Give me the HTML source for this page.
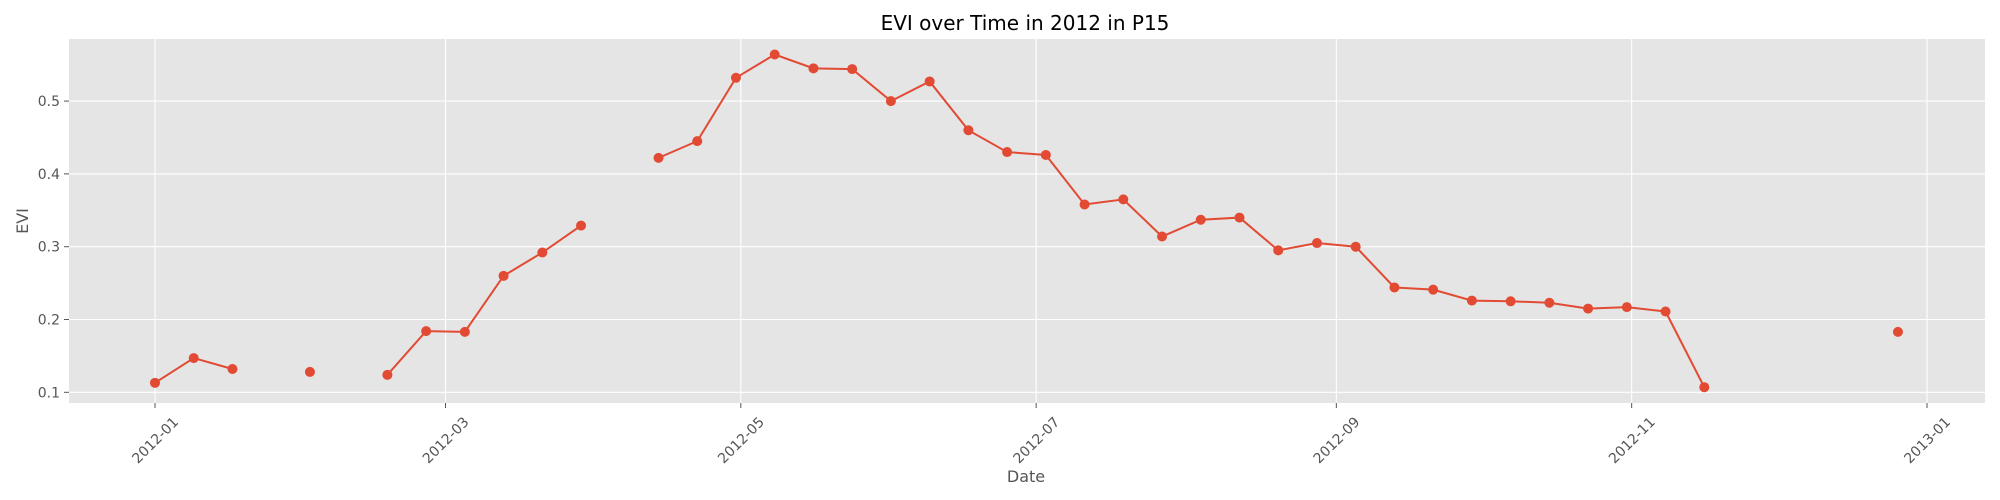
<!DOCTYPE html>
<html><head><meta charset="utf-8"><style>
html,body{margin:0;padding:0;background:#fff;}
svg{display:block;font-family:"DejaVu Sans","Liberation Sans",sans-serif;}
</style></head><body>
<svg id="chart" width="2000" height="500" viewBox="0 0 2000 500" xmlns="http://www.w3.org/2000/svg">
<rect x="0" y="0" width="2000" height="500" fill="#fff"/>
<rect x="69" y="39" width="1916" height="364" fill="#e5e5e5"/>
<g id="grid"></g><g id="ticks"></g><g id="series"></g>
<text x="1025" y="30" font-size="20" text-anchor="middle" fill="#000">EVI over Time in 2012 in P15</text>
<text x="1026" y="482" font-size="16" text-anchor="middle" fill="#555">Date</text>
<text x="28" y="221" font-size="16" text-anchor="middle" fill="#555" transform="rotate(-90 28 221)">EVI</text>
</svg>
<script>
// Data (day offset from 2012-01-01; null = missing)
const days = [0,8,16,24,32,40,48,56,64,72,80,88,96,104,112,120,128,136,144,152,160,168,176,184,192,200,208,216,224,232,240,248,256,264,272,280,288,296,304,312,320,328,336,344,352,360];
const evi = [0.113,0.147,0.132,null,0.128,null,0.124,0.184,0.183,0.260,0.292,0.329,null,0.422,0.445,0.532,0.564,0.545,0.544,0.500,0.527,0.460,0.430,0.426,0.358,0.365,0.314,0.337,0.340,0.295,0.305,0.300,0.244,0.241,0.226,0.225,0.223,0.215,0.217,0.211,0.107,null,null,null,null,0.183];
const xTickDays = [0,60,121,182,244,305,366];
const xTickLabels = ['2012-01','2012-03','2012-05','2012-07','2012-09','2012-11','2013-01'];
const yTicks = [0.1,0.2,0.3,0.4,0.5];

const NS='http://www.w3.org/2000/svg';
const X0=155, PXD=1772/366;
const xs = d => X0 + d*PXD;
const ys = v => 392.3 - (v-0.1)*728;
function mk(tag, attrs, parent){const e=document.createElementNS(NS,tag);for(const k in attrs)e.setAttribute(k,attrs[k]);parent.appendChild(e);return e;}
const grid=document.getElementById('grid'), ticks=document.getElementById('ticks'), series=document.getElementById('series');

yTicks.forEach(v=>{
  const y=ys(v);
  const g=mk('line',{x1:69,x2:1985,y1:y,y2:y,stroke:'#fff','stroke-width':1.1},grid);
  
  
  mk('line',{x1:64,x2:69,y1:y,y2:y,stroke:'#555','stroke-width':1},ticks);
  const t=mk('text',{x:60,y:y+5,'font-size':14,'text-anchor':'end',fill:'#555'},ticks);
  t.textContent=v.toFixed(1);
  
  
});
xTickDays.forEach((d,i)=>{
  const x=xs(d);
  const g=mk('line',{x1:x,x2:x,y1:39,y2:403,stroke:'#fff','stroke-width':1.1},grid);
  
  
  mk('line',{x1:x,x2:x,y1:403,y2:408,stroke:'#555','stroke-width':1},ticks);
  const t=mk('text',{x:x,y:445,'font-size':14,'text-anchor':'middle',fill:'#555',transform:`rotate(-45 ${x} 440)`},ticks);
  t.textContent=xTickLabels[i];
  
  
});

// line segments (break at nulls)
let seg=[];
function flush(){
  if(seg.length>1){
    const p=mk('polyline',{points:seg.map(q=>q.join(',')).join(' '),fill:'none',stroke:'#e24a33','stroke-width':2},series);
    
    
  }
  seg=[];
}
days.forEach((d,i)=>{ if(evi[i]===null){flush();} else seg.push([xs(d),ys(evi[i])]); });
flush();
days.forEach((d,i)=>{
  if(evi[i]===null) return;
  const c=mk('circle',{cx:xs(d),cy:ys(evi[i]),r:5,fill:'#e24a33'},series);
  
  
});
</script>
</body></html>
